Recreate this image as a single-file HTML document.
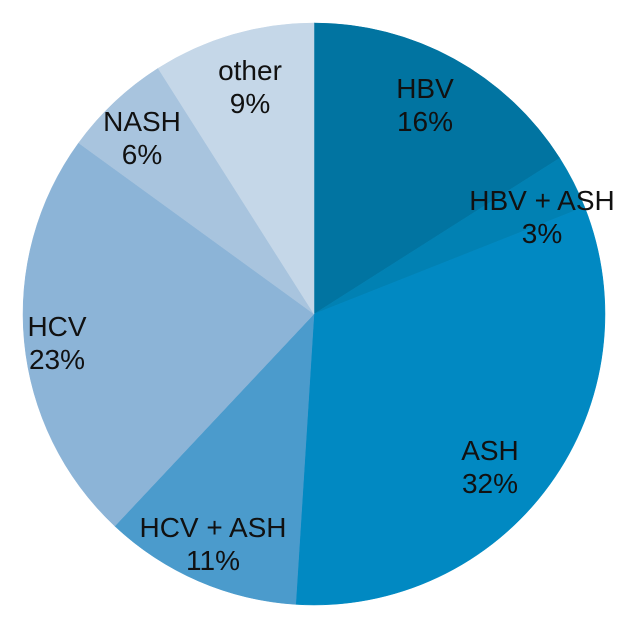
<!DOCTYPE html>
<html><head><style>html,body{margin:0;padding:0;background:#fff;}svg{display:block}</style></head>
<body>
<svg id="s" width="640" height="630" viewBox="0 0 640 630" xmlns="http://www.w3.org/2000/svg" font-family="Liberation Sans, Arial, sans-serif" font-size="28" fill="#111">
</svg>
<script>
var cx=314,cy=314,r=291;
var d=[[16,"#0174a1"],[3,"#0181b3"],[32,"#0189c2"],[11,"#4b9bcc"],[23,"#8cb4d7"],[6,"#a8c4de"],[9,"#c5d7e8"]];
var s=document.getElementById('s'),a=0,h='';
function pt(p){var t=p/100*2*Math.PI;return [cx+r*Math.sin(t),cy-r*Math.cos(t)];}
d.forEach(function(x){var p0=pt(a),p1=pt(a+x[0]);var lg=x[0]>50?1:0;
h+='<path d="M'+cx+','+cy+' L'+p0[0]+','+p0[1]+' A'+r+','+r+' 0 '+lg+' 1 '+p1[0]+','+p1[1]+' Z" fill="'+x[1]+'" stroke="'+x[1]+'" stroke-width="0.5"/>';a+=x[0];});
var L=[["HBV","16%",425,98],["HBV + ASH","3%",542,210],["ASH","32%",490,460],["HCV + ASH","11%",213,537],["HCV","23%",57,336],["NASH","6%",142,131],["other","9%",250,80]];
L.forEach(function(l){h+='<text x="'+l[2]+'" y="'+l[3]+'" text-anchor="middle">'+l[0]+'</text><text x="'+l[2]+'" y="'+(l[3]+33)+'" text-anchor="middle">'+l[1]+'</text>';});
s.innerHTML=h;
</script>
</body></html>
